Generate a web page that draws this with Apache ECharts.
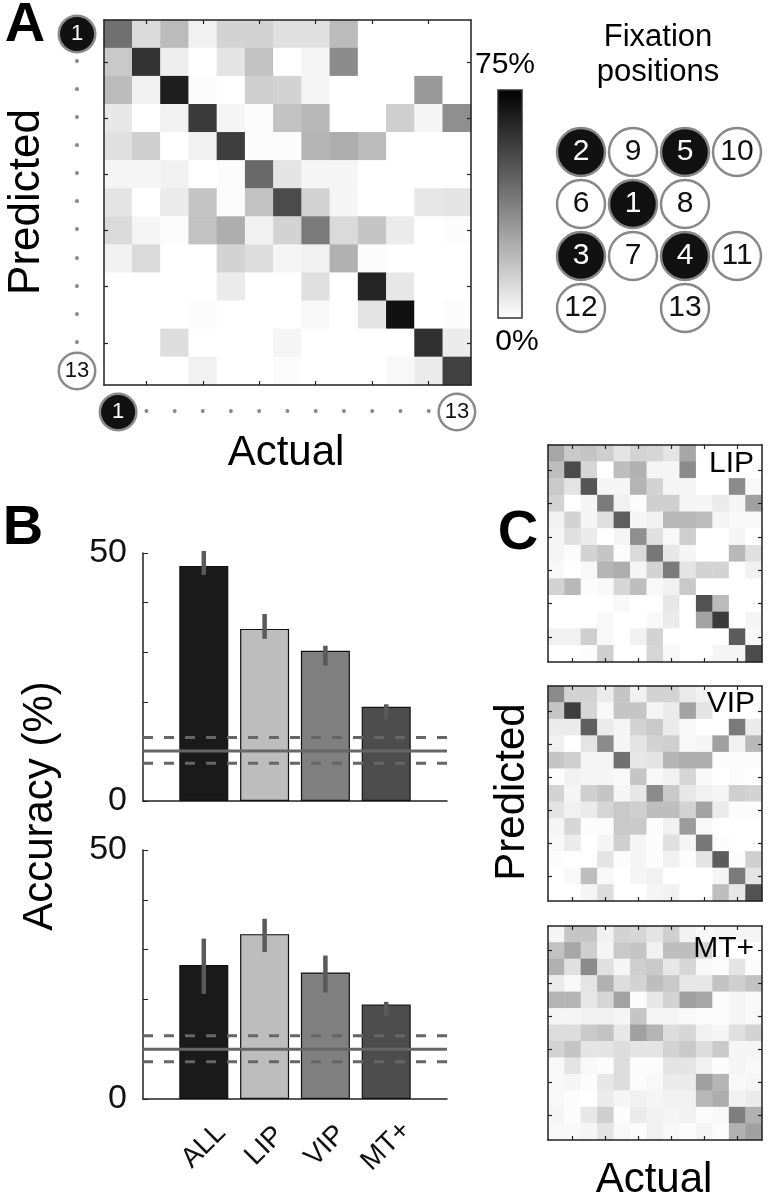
<!DOCTYPE html>
<html><head><meta charset="utf-8">
<script src="https://cdn.jsdelivr.net/npm/echarts@6/dist/echarts.min.js"></script>
<style>html,body{margin:0;padding:0;background:#fff}#c{width:768px;height:1199px}</style>
</head><body><div id="c"></div><script>
// ---------------- DATA ----------------
const positions = ['1','2','3','4','5','6','7','8','9','10','11','12','13'];
// Panel A: confusion matrix, all areas (rows = predicted, cols = actual), %
const confAll = [
  [42,11,20,4,13,13,9,9,20,0,0,0,0],
  [16,60,5,0,8,18,0,3,34,0,0,0,0],
  [20,4,66,1,0,14,13,3,0,0,0,30,0],
  [7,0,4,58,3,1,18,21,0,0,14,3,33],
  [9,14,0,4,57,1,1,22,24,20,0,0,0],
  [3,3,4,0,1,44,8,3,3,0,0,0,0],
  [8,0,6,17,1,18,53,13,3,0,0,7,8],
  [11,3,1,18,24,4,13,39,11,17,6,0,1],
  [4,11,0,0,13,10,3,4,23,1,0,0,0],
  [0,0,0,0,6,0,0,9,0,64,7,0,0],
  [0,0,0,1,0,0,0,2,0,8,70,0,1],
  [0,0,10,0,0,0,3,0,0,0,0,61,6],
  [0,0,0,4,0,0,1,0,0,0,2,6,56]
];
const confLIP = [
  [26,16,17,14,8,13,12,8,26,0,0,0,0],
  [19,53,12,0,19,23,3,3,34,0,0,0,0],
  [16,8,50,3,3,22,13,3,3,0,0,34,2],
  [13,0,3,39,4,1,14,14,3,3,6,3,28],
  [4,13,3,9,47,3,4,21,21,19,3,2,2],
  [3,9,6,0,3,33,9,2,14,0,0,3,0],
  [3,1,13,17,1,11,40,7,3,0,0,21,9],
  [2,0,2,22,24,3,13,39,8,13,13,0,4],
  [13,21,1,2,12,19,2,4,16,0,0,0,0],
  [0,0,0,0,2,0,0,7,0,51,20,0,0],
  [0,0,0,2,0,0,2,6,0,27,58,0,3],
  [4,4,14,2,0,4,13,0,0,0,0,48,2],
  [0,0,1,14,0,0,12,2,0,0,3,3,53]
];
const confVIP = [
  [34,13,13,6,17,4,13,13,6,4,0,0,0],
  [17,57,12,2,17,17,3,6,27,8,0,0,0],
  [6,6,47,6,3,13,16,6,2,0,0,39,6],
  [4,0,8,34,3,8,13,14,2,3,28,4,21],
  [17,14,3,3,42,7,8,22,24,24,1,1,1],
  [1,4,3,3,2,17,2,4,12,2,0,1,0],
  [13,3,14,17,3,7,34,16,7,4,3,14,13],
  [8,4,6,12,16,14,19,19,13,27,6,1,1],
  [3,12,1,1,16,16,1,4,29,2,0,0,0],
  [2,6,0,3,14,3,1,9,3,40,1,0,0],
  [1,0,0,8,1,3,1,4,1,8,48,1,14],
  [0,2,19,2,0,3,4,0,0,0,3,39,8],
  [0,0,3,10,0,0,3,4,0,0,19,7,51]
];
const confMT = [
  [3,17,17,4,13,12,8,14,4,2,3,3,3],
  [18,26,14,3,16,17,4,19,19,12,0,0,0],
  [23,9,34,9,3,14,16,7,12,2,1,8,1],
  [6,2,8,23,10,13,19,16,7,7,18,14,18],
  [22,22,7,12,27,1,7,13,28,26,1,3,2],
  [3,3,4,4,3,17,3,3,2,1,1,3,2],
  [10,10,16,18,7,28,22,10,12,4,3,9,13],
  [13,17,8,8,10,8,8,13,16,10,16,3,3],
  [2,8,2,1,10,1,1,8,8,4,1,3,2],
  [2,3,1,7,10,1,2,6,6,28,22,2,3],
  [2,1,0,6,3,4,3,4,4,21,24,4,6],
  [3,1,7,14,1,6,4,3,4,1,2,38,23],
  [2,2,3,8,2,1,4,2,1,3,1,23,28]
];
const colorMin = 0, colorMax = 75;
const colorTickLabels = ['75%', '0%'];

// Panel B
const barCats = ['ALL','LIP','VIP','MT+'];
const accTop = [47.4, 34.7, 30.3, 19.0];
const errLoTop = [45.6, 32.7, 27.3, 16.5];
const errHiTop = [50.4, 37.7, 31.3, 19.5];
const chanceTop = [10.1, 7.6, 12.8];      // mean, lower, upper
const accBot = [26.9, 33.1, 25.4, 19.0];
const errLoBot = [21.1, 29.5, 21.4, 16.6];
const errHiBot = [32.2, 36.2, 28.8, 19.5];
const chanceBot = [10.0, 7.5, 12.7];
const barYLabels = [0, 50];

// Fixation position layout
const fixIds    = [2,9,5,10,6,1,8,3,7,4,11,12,13];
const fixCol    = [0,1,2,3,0,1,2,0,1,2,3,0,2];
const fixRow    = [0,0,0,0,1,1,1,2,2,2,2,3,3];
const fixFilled = [1,0,1,0,0,1,0,1,0,1,0,0,0];

// ---------------- BUILD ----------------
const FONT = 'Liberation Sans, Arial, Helvetica, sans-serif';
const grids = [], xAxes = [], yAxes = [], series = [], heatIdx = [];
const boxLine = {show:true, onZero:false, lineStyle:{color:'#222', width:1.5}};
const hmTick = {show:true, inside:true, length:4, alignWithLabel:true,
  interval:(i)=> i % 2 === 1, lineStyle:{color:'#222', width:1.2}};

const circ = (bg, fg) => ({width:34, height:34, lineHeight:34, align:'center', verticalAlign:'middle',
  backgroundColor:bg, borderColor:'#8a8a8a', borderWidth:2.5, borderRadius:19, color:fg,
  fontSize:22, fontFamily:FONT});
const markerLabel = {show:true, interval:0, margin:10, hideOverlap:false,
  formatter:(v, i)=> i === 0 ? '{b|' + v + '}' : (i === positions.length - 1 ? '{w|' + v + '}' : '{d|•}'),
  rich:{b:circ('#111','#fff'), w:circ('#fff','#111'),
        d:{width:34, height:34, lineHeight:34, align:'center', color:'#8a8a8a', fontSize:14}}};

function addHeatmap(g, data, labels) {
  const gi = grids.length; grids.push(g);
  const xi = xAxes.length, yi = yAxes.length;
  const base = {type:'category', gridIndex:gi, data:positions, axisLine:boxLine, axisTick:hmTick,
    splitLine:{show:false}, z:5};
  xAxes.push(Object.assign({}, base, {position:'bottom', axisLabel: labels ? markerLabel : {show:false}}));
  xAxes.push(Object.assign({}, base, {position:'top', axisLabel:{show:false}}));
  yAxes.push(Object.assign({}, base, {position:'left', inverse:true, axisLabel: labels ? markerLabel : {show:false}}));
  yAxes.push(Object.assign({}, base, {position:'right', inverse:true, axisLabel:{show:false}}));
  const d = [];
  data.forEach((row, r) => row.forEach((v, c) => d.push([c, r, v])));
  series.push({type:'heatmap', xAxisIndex:xi, yAxisIndex:yi, data:d, itemStyle:{borderWidth:0},
    emphasis:{disabled:true}, progressive:0, silent:true});
  heatIdx.push(series.length - 1);
}

function addBars(g, vals, lo, hi, chance, showX) {
  const gi = grids.length; grids.push(g);
  const xi = xAxes.length, yi = yAxes.length;
  xAxes.push({type:'value', gridIndex:gi, min:0, max:5, interval:1, axisLine:boxLine,
    axisTick:{show:false}, splitLine:{show:false},
    axisLabel: showX ? {show:true, rotate:45, align:'center', verticalAlign:'middle', margin:47,
      fontSize:28, fontFamily:FONT, color:'#111', formatter:(v)=> barCats[v - 1] || ''} : {show:false}});
  yAxes.push({type:'value', gridIndex:gi, min:0, max:50, interval:10, axisLine:boxLine,
    axisTick:{show:true, inside:true, length:5, lineStyle:{color:'#222'}}, splitLine:{show:false},
    axisLabel:{show:true, margin:16, fontSize:34, fontFamily:FONT, color:'#111',
      formatter:(v)=> barYLabels.indexOf(v) >= 0 ? String(v) : ''}});
  const barColors = ['#1a1a1a','#bdbdbd','#808080','#4d4d4d'];
  series.push({type:'bar', xAxisIndex:xi, yAxisIndex:yi, barWidth:49, z:2, silent:true,
    itemStyle:{borderColor:'#111', borderWidth:1.2},
    data: barCats.map((c, i) => ({value:[i + 1, vals[i]], itemStyle:{color:barColors[i]}}))});
  series.push({type:'custom', xAxisIndex:xi, yAxisIndex:yi, z:4, silent:true,
    data: barCats.map((c, i) => [i + 1, lo[i], hi[i]]),
    renderItem:(params, api) => {
      const a = api.coord([api.value(0), api.value(1)]);
      const b = api.coord([api.value(0), api.value(2)]);
      return {type:'line', shape:{x1:a[0], y1:a[1], x2:b[0], y2:b[1]},
        style:{stroke:'#5a5a5a', lineWidth:4.5}};
    }});
  chance.forEach((y, k) => {
    series.push({type:'line', xAxisIndex:xi, yAxisIndex:yi, z:6, silent:true, symbol:'none',
      data:[[0, y], [5, y]],
      lineStyle:{color:'#666', width:3, type: k === 0 ? 'solid' : [10, 11]}});
  });
}

addHeatmap({left:104, top:20, width:367, height:365}, confAll, true);
addBars({left:143, top:553, width:304, height:248}, accTop, errLoTop, errHiTop, chanceTop, false);
addBars({left:143, top:850, width:304, height:249}, accBot, errLoBot, errHiBot, chanceBot, true);
addHeatmap({left:548, top:445, width:214, height:217}, confLIP, false);
addHeatmap({left:548, top:686, width:214, height:215}, confVIP, false);
addHeatmap({left:548, top:926, width:214, height:214}, confMT, false);

// fixation position diagram
{
  const gi = grids.length; grids.push({left:555, top:126, width:208, height:208});
  const xi = xAxes.length, yi = yAxes.length;
  xAxes.push({type:'value', gridIndex:gi, min:-0.5, max:3.5, show:false});
  yAxes.push({type:'value', gridIndex:gi, min:-0.5, max:3.5, inverse:true, show:false});
  series.push({type:'scatter', xAxisIndex:xi, yAxisIndex:yi, symbol:'circle', symbolSize:48, silent:true,
    itemStyle:{borderColor:'#888', borderWidth:2.5, opacity:1},
    label:{show:true, position:'inside', formatter:'{b}', fontSize:30, fontFamily:FONT},
    data: fixIds.map((id, i) => ({name:String(id), value:[fixCol[i], fixRow[i]],
      itemStyle:{color: fixFilled[i] ? '#111' : '#fff'},
      label:{color: fixFilled[i] ? '#fff' : '#111'}}))});
}

function txt(s, x, y, size, opts) {
  opts = opts || {};
  return {type:'text', x:x, y:y, rotation: opts.rot || 0, z:100, silent:true,
    style:{text:s, font:(opts.bold ? 'bold ' : '') + size + 'px ' + FONT, fill:'#000',
      textAlign: opts.align || 'center', align: opts.align || 'center',
      textVerticalAlign:'middle', verticalAlign:'middle'}};
}
const graphics = [
  txt('A', 25, 26, 56, {bold:true}),
  txt('B', 23, 529, 56, {bold:true}),
  txt('C', 518, 534, 56, {bold:true}),
  txt('Predicted', 27, 202, 44, {rot:Math.PI/2}),
  txt('Actual', 286, 453, 42),
  txt('Fixation', 658, 37, 31),
  txt('positions', 658, 72, 31),
  txt(colorTickLabels[0], 505, 65, 30),
  txt(colorTickLabels[1], 517, 342, 30),
  txt('Accuracy (%)', 40, 806, 42, {rot:Math.PI/2}),
  txt('LIP', 754, 464, 30, {align:'right'}),
  txt('VIP', 755, 704, 30, {align:'right'}),
  txt('MT+', 754, 949, 30, {align:'right'}),
  txt('Predicted', 512, 792, 42, {rot:Math.PI/2}),
  txt('Actual', 654, 1180, 42),
  {type:'rect', z:100, silent:true, shape:{x:498, y:90, width:24, height:228},
    style:{fill:{type:'linear', x:0, y:0, x2:0, y2:1,
      colorStops:[{offset:0, color:'#000'}, {offset:1, color:'#fff'}]},
      stroke:'#333', lineWidth:1.5}}
];

const chart = echarts.init(document.getElementById('c'), null, {renderer:'canvas'});
chart.setOption({
  animation:false,
  backgroundColor:'#fff',
  textStyle:{fontFamily:FONT},
  grid:grids, xAxis:xAxes, yAxis:yAxes,
  visualMap:{type:'continuous', show:false, min:colorMin, max:colorMax, seriesIndex:heatIdx,
    inRange:{color:['#ffffff','#000000']}},
  series:series,
  graphic:graphics
});
</script></body></html>
